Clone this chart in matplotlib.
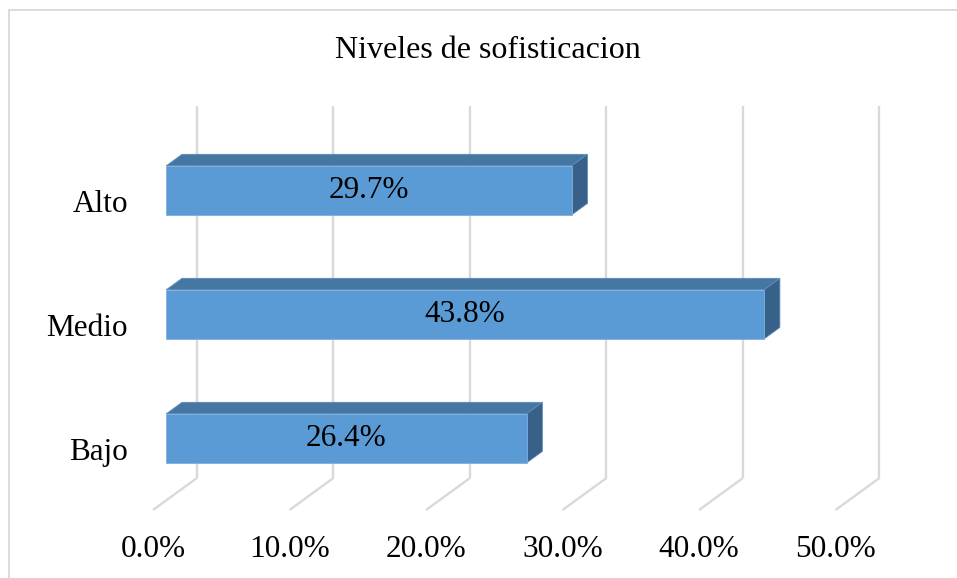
import matplotlib
matplotlib.use("Agg")
import matplotlib.pyplot as plt
from matplotlib.patches import Polygon, Rectangle

# Chart data
categories = ["Bajo", "Medio", "Alto"]
values = [26.4, 43.8, 29.7]
ticks = [0, 10, 20, 30, 40, 50]
title = "Niveles de sofisticacion"

# 3D-look geometry (depth runs from front floor d=0 to back wall d=1)
DEPTH_X = 3.22      # horizontal shift of full depth, in percent units
DEPTH_Y = 0.258     # vertical shift of full depth, in category units
BAR_D0, BAR_D1 = 0.30, 0.66
BAR_HALF = 0.198
FLOOR, TOP = -0.5, 2.5

FRONT = "#5B9BD5"
TOPC = "#4676A2"
SIDE = "#386189"
GRID = "#D9D9D9"

plt.rcParams["font.family"] = ["Liberation Serif", "DejaVu Serif"]


def proj(x, y, d):
    return (x + d * DEPTH_X, y + d * DEPTH_Y)


fig = plt.figure(figsize=(9.57, 5.78), dpi=100)
ax = fig.add_axes([0, 0, 1, 1])
ax.set_xlim(-153 / 13.65, (957 - 153) / 13.65)
ax.set_ylim(-130 / 124, 448 / 124)
ax.axis("off")

# chart area border (top and left edges visible)
fig.patches.append(Rectangle((9 / 957, -0.1), 1.2, 1 - 10 / 578 + 0.1,
                             transform=fig.transFigure, fill=False,
                             edgecolor="#D9D9D9", linewidth=1.3))

# gridlines on back wall and floor
for t in ticks:
    bx0, by0 = proj(t, FLOOR, 1)
    bx1, by1 = proj(t, TOP, 1)
    ax.plot([bx0, bx1], [by0, by1], color=GRID, lw=1.7, zorder=1,
            solid_capstyle="butt")
    fx, fy = proj(t, FLOOR, 0)
    ax.plot([fx, bx0], [fy, by0], color=GRID, lw=1.7, zorder=1,
            solid_capstyle="butt")
    ax.text(t, -0.822, f"{t:.1f}%", ha="center", va="center", fontsize=22.5)

# bars
for k, (cat, val) in enumerate(zip(categories, values)):
    y0, y1 = k - BAR_HALF, k + BAR_HALF
    front = [proj(0, y0, BAR_D0), proj(val, y0, BAR_D0),
             proj(val, y1, BAR_D0), proj(0, y1, BAR_D0)]
    top = [proj(0, y1, BAR_D0), proj(val, y1, BAR_D0),
           proj(val, y1, BAR_D1), proj(0, y1, BAR_D1)]
    side = [proj(val, y0, BAR_D0), proj(val, y0, BAR_D1),
            proj(val, y1, BAR_D1), proj(val, y1, BAR_D0)]
    ax.add_patch(Polygon(top, closed=True, facecolor=TOPC, edgecolor="#5B8DBE",
                         lw=0.6, zorder=3))
    ax.add_patch(Polygon(side, closed=True, facecolor=SIDE, edgecolor="#5B8DBE",
                         lw=0.6, zorder=3))
    ax.add_patch(Polygon(front, closed=True, facecolor=FRONT, edgecolor="#7FB0DD",
                         lw=0.6, zorder=4))
    cx, cy = proj(val / 2, k, BAR_D0)
    ax.text(cx, cy, f"{val:.1f}%", ha="center", va="center", fontsize=22.5,
            zorder=5)
    ax.text(-1.83, k - 0.04, cat, ha="right", va="center", fontsize=22.5)

fig.text(488 / 957, 1 - 50 / 578, title, ha="center", va="center", fontsize=23)

fig.savefig("out.png", dpi=100, facecolor="white")
